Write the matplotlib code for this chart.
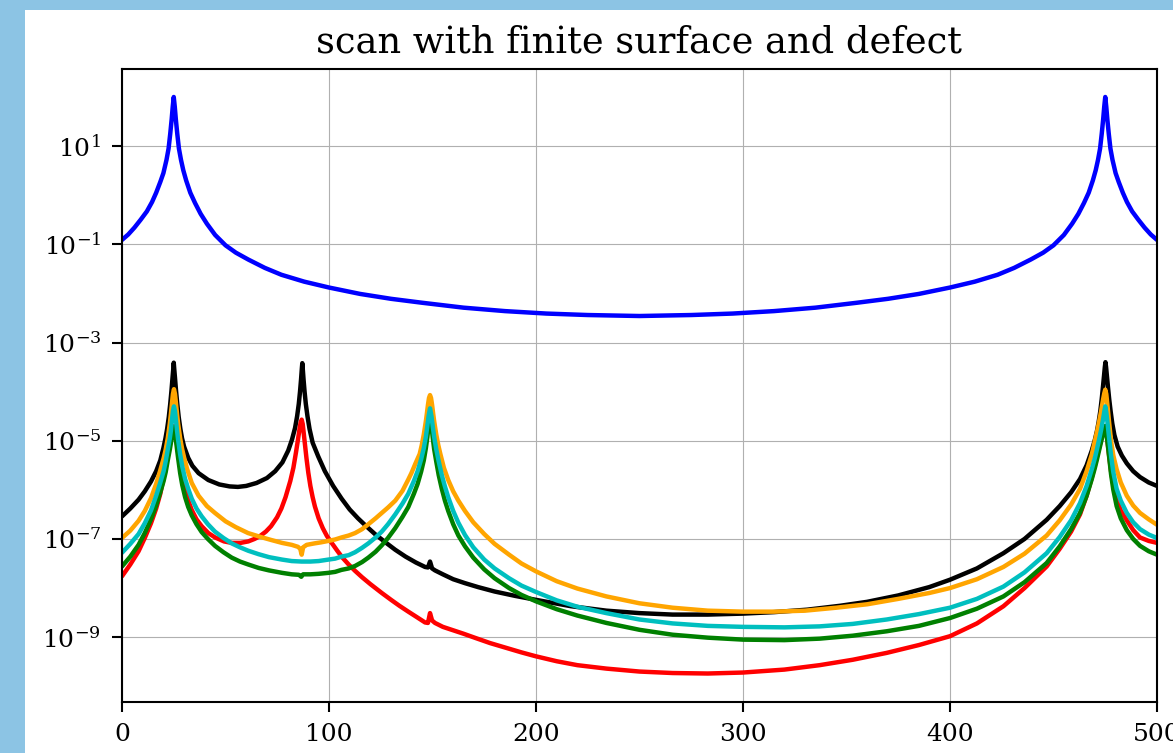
import numpy as np
import matplotlib
matplotlib.use("Agg")
import matplotlib.pyplot as plt
from matplotlib.patches import Rectangle

plt.rcParams['font.family'] = ['DejaVu Serif']
plt.rcParams['mathtext.fontset'] = 'dejavuserif'

# ---- data: x and log10(y) ----
blue_x = [0, 3, 6, 9, 12, 14.5, 16.5, 18.5, 20, 21.5, 22.5, 23.3, 24, 24.5, 25, 25.5, 26, 26.7, 27.5, 28.5, 29.6,
          31, 33, 35.3, 38, 41, 45, 50, 55, 61, 69, 77, 88, 100, 115, 130, 145, 165, 185, 205, 225, 250,
          275, 295, 315, 335, 355, 370, 385, 400, 412, 423, 431, 439, 445, 450, 455, 459, 462, 464.7, 467, 469,
          470.4, 471.5, 472.5, 473.3, 474, 474.5, 475, 475.5, 476, 476.7, 477.5, 478.5, 480, 481.5, 483.5,
          485.5, 488, 491, 494, 497, 500]
blue_log = [-0.91, -0.80, -0.66, -0.50, -0.33, -0.14, 0.05, 0.27, 0.45, 0.72, 0.95, 1.25, 1.55, 1.80, 2.0, 1.80,
            1.55, 1.25, 0.95, 0.72, 0.51, 0.30, 0.05, -0.16, -0.38, -0.58, -0.81, -1.02, -1.17, -1.31, -1.48,
            -1.62, -1.76, -1.88, -2.01, -2.11, -2.19, -2.29, -2.36, -2.41, -2.44, -2.46,
            -2.44, -2.41, -2.36, -2.29, -2.19, -2.11, -2.01, -1.88, -1.76, -1.62, -1.48, -1.31, -1.17, -1.02,
            -0.81, -0.58, -0.38, -0.16, 0.05, 0.30, 0.51, 0.72, 0.95, 1.25, 1.55, 1.80, 2.0, 1.80, 1.55, 1.25,
            0.95, 0.72, 0.45, 0.27, 0.05, -0.14, -0.33, -0.50, -0.66, -0.80, -0.91]

black_x = [0, 4, 8, 11, 14, 16.5, 18.5, 20, 21, 21.8, 22.6, 23.3, 23.9, 24.4, 24.8, 25, 25.2, 25.6, 26.1, 26.7,
           27.4, 28.2, 29, 30, 32, 34, 37, 41.7, 47, 52, 56, 60, 65, 70, 74, 77.5, 80.3, 82.1, 83.6, 84.6, 85.4,
           86, 86.5, 86.9, 87.1, 87.3, 87.7, 88.2, 88.8, 89.6, 90.6, 92.1, 94.8, 98, 102, 106.1, 110, 114, 118,
           122.2, 127, 132, 137, 142, 146.4, 147.8, 148.8, 149.8, 151.2, 155, 160, 165.7, 172, 180, 190, 200,
           217, 234, 250, 266, 283, 300, 315, 331, 347, 360, 375, 390, 400, 413, 425.8, 436, 446.7, 453, 458.5,
           462.8, 466, 468.5, 470, 471, 471.8, 472.6, 473.3, 473.9, 474.4, 474.8, 475.1, 475.4, 475.8, 476.3,
           476.9, 477.6, 478.4, 479.4, 481, 483, 485.4, 488.5, 491.8, 496, 500]
black_log = [-6.54, -6.38, -6.20, -6.03, -5.83, -5.62, -5.40, -5.15, -4.95, -4.76, -4.52, -4.25, -3.98, -3.72,
             -3.52, -3.41, -3.52, -3.72, -3.98, -4.25, -4.52, -4.76, -4.95, -5.12, -5.35, -5.51, -5.66, -5.80,
             -5.89, -5.93, -5.94, -5.92, -5.86, -5.76, -5.62, -5.44, -5.20, -4.98, -4.74, -4.50, -4.25, -4.00,
             -3.75, -3.52, -3.42, -3.52, -3.75, -4.00, -4.25, -4.50, -4.76, -5.04, -5.32, -5.62, -5.92, -6.18,
             -6.40, -6.58, -6.74, -6.90, -7.06, -7.22, -7.36, -7.48, -7.57, -7.58, -7.46, -7.60, -7.64, -7.72,
             -7.82, -7.90, -7.98, -8.07, -8.16, -8.24, -8.37, -8.46, -8.51, -8.54, -8.54, -8.52, -8.49, -8.44,
             -8.36, -8.28, -8.15, -7.98, -7.83, -7.60, -7.29, -7.00, -6.61, -6.33, -6.05, -5.78, -5.50, -5.20,
             -4.98, -4.80, -4.62, -4.40, -4.15, -3.90, -3.68, -3.50, -3.40, -3.50, -3.68, -3.90, -4.15, -4.40,
             -4.65, -4.88, -5.12, -5.30, -5.46, -5.62, -5.74, -5.85, -5.92]

orange_x = [0, 4, 8, 11, 14, 16.5, 18.5, 20.1, 21.1, 22.1, 23.1, 23.6, 24.1, 24.6, 25.1, 25.6, 26.1, 26.6, 27.1,
            28.1, 29.1, 30.1, 31.5, 33.7, 37, 41, 44.9, 50, 55, 60.9, 67, 72, 77.3, 82, 85, 86.1, 86.8, 87.5,
            89.2, 93, 96, 99.7, 103, 106, 109.5, 112.6, 116, 119, 122.5, 125.5, 128.5, 132, 135.5, 138.3,
            139.8, 141.8, 143.8, 144.8, 145.8, 146.8, 147.3, 147.8, 148.3, 148.8, 149.3, 149.8, 150.3, 150.8,
            151.8, 152.8, 153.8, 155.5, 157.6, 160, 162.5, 165.7, 169.7, 175, 180, 187, 193, 200, 210, 220,
            234, 250, 266, 283, 300, 315, 330, 345, 360, 375, 390, 400, 413, 425.8, 436, 446.7, 453, 458.5,
            462.8, 466, 468.5, 470, 471, 472, 473, 474, 474.5, 475, 475.5, 476, 476.8, 477.8, 478.9, 480.5,
            482.5, 485.4, 488.5, 491.8, 496, 500]
orange_log = [-6.98, -6.83, -6.63, -6.43, -6.17, -5.88, -5.60, -5.36, -5.18, -4.95, -4.65, -4.46, -4.25, -4.05,
              -3.95, -4.05, -4.25, -4.46, -4.65, -4.95, -5.18, -5.36, -5.58, -5.86, -6.12, -6.33, -6.47, -6.64,
              -6.76, -6.88, -6.96, -7.02, -7.08, -7.12, -7.16, -7.20, -7.32, -7.17, -7.12, -7.09, -7.07, -7.04,
              -7.01, -6.97, -6.93, -6.88, -6.80, -6.70, -6.58, -6.47, -6.36, -6.22, -6.02, -5.79, -5.66, -5.46,
              -5.27, -5.09, -4.87, -4.60, -4.44, -4.27, -4.13, -4.07, -4.13, -4.27, -4.44, -4.60, -4.87, -5.09,
              -5.27, -5.55, -5.80, -6.03, -6.22, -6.43, -6.66, -6.90, -7.10, -7.32, -7.50, -7.66, -7.86, -8.01,
              -8.17, -8.31, -8.40, -8.46, -8.48, -8.48, -8.46, -8.40, -8.33, -8.22, -8.10, -8.00, -7.82, -7.57,
              -7.30, -6.93, -6.62, -6.30, -5.98, -5.62, -5.28, -5.00, -4.82, -4.62, -4.40, -4.15, -4.04, -3.96,
              -4.05, -4.25, -4.60, -5.00, -5.30, -5.58, -5.85, -6.12, -6.32, -6.47, -6.60, -6.71]

cyan_x = [0, 4, 8, 11, 14, 16.5, 18.5, 20.1, 21.1, 22.1, 23.1, 23.6, 24.1, 24.6, 25.1, 25.6, 26.1, 26.6, 27.1,
          28.1, 29.1, 30.5, 32, 33.7, 36, 38.5, 41.5, 44.9, 49, 53, 57, 61, 66, 71, 77.3, 82, 86.8, 91, 95,
          99.7, 103, 106, 109.5, 112.6, 116, 119, 122.5, 125.5, 128.5, 132, 135.5, 138.3, 141, 142.8, 144.5,
          145.8, 146.8, 147.5, 148.1, 148.8, 149.5, 150.1, 150.8, 151.8, 153, 154.5, 156, 157.6, 160, 162.5,
          165.7, 169.7, 175, 180, 187, 193, 200, 210, 220, 234, 250, 266, 283, 300, 320, 337, 353, 369.4, 385,
          400, 413, 425.8, 436, 446.7, 453, 458.5, 462.8, 466, 468.5, 470, 471, 472, 473, 474, 474.5, 475,
          475.5, 476, 476.8, 477.8, 478.9, 480.5, 482.5, 485.4, 488.5, 491.8, 496, 500]
cyan_log = [-7.28, -7.10, -6.90, -6.68, -6.42, -6.12, -5.85, -5.62, -5.42, -5.18, -4.95, -4.80, -4.60, -4.40,
            -4.30, -4.40, -4.60, -4.80, -4.98, -5.28, -5.52, -5.78, -5.98, -6.18, -6.38, -6.54, -6.70, -6.85,
            -6.98, -7.09, -7.17, -7.24, -7.31, -7.37, -7.42, -7.45, -7.46, -7.46, -7.45, -7.42, -7.40, -7.36,
            -7.33, -7.27, -7.18, -7.09, -6.97, -6.85, -6.70, -6.50, -6.28, -6.08, -5.82, -5.62, -5.38, -5.15,
            -4.92, -4.70, -4.50, -4.34, -4.50, -4.70, -4.92, -5.17, -5.42, -5.70, -5.93, -6.15, -6.43, -6.67,
            -6.92, -7.17, -7.42, -7.60, -7.80, -7.95, -8.08, -8.25, -8.38, -8.51, -8.64, -8.72, -8.77, -8.79,
            -8.80, -8.78, -8.73, -8.64, -8.53, -8.40, -8.22, -7.97, -7.68, -7.29, -6.96, -6.62, -6.27, -5.92,
            -5.58, -5.35, -5.17, -4.98, -4.78, -4.55, -4.42, -4.30, -4.42, -4.60, -4.92, -5.30, -5.64, -5.98,
            -6.22, -6.47, -6.66, -6.80, -6.91, -6.98]

green_x = [0, 4, 8, 11, 14, 16.5, 18.5, 20.1, 21.1, 22.1, 23.1, 23.6, 24.1, 24.6, 25.1, 25.6, 26.1, 26.6, 27.1,
           28.1, 29.1, 30.5, 32, 33.7, 36, 38.5, 41.5, 44.9, 49, 53, 57, 61, 66, 71, 77.3, 82, 85.5, 86.6, 87.5,
           91, 95, 99.7, 103, 106, 109.5, 112.6, 116, 119, 122.5, 125.5, 128.5, 132, 135.5, 138.3, 141, 142.8,
           144.5, 145.8, 146.8, 147.5, 148.1, 148.8, 149.5, 150.1, 150.8, 151.8, 153, 154.5, 156, 157.6, 160,
           162.5, 165.7, 169.7, 175, 180, 187, 193, 200, 210, 220, 234, 250, 266, 283, 300, 320, 337, 353,
           369.4, 385, 400, 413, 425.8, 436, 446.7, 453, 458.5, 462.8, 466, 468.5, 470, 471, 472, 473, 474,
           474.5, 475, 475.5, 476, 476.8, 477.8, 478.9, 480.5, 482.5, 485.4, 488.5, 491.8, 496, 500]
green_log = [-7.56, -7.36, -7.12, -6.88, -6.60, -6.32, -6.05, -5.82, -5.64, -5.40, -5.18, -5.05, -4.92, -4.80,
             -4.72, -4.82, -5.00, -5.18, -5.35, -5.66, -5.90, -6.15, -6.35, -6.52, -6.70, -6.86, -7.00, -7.14,
             -7.27, -7.38, -7.46, -7.52, -7.59, -7.64, -7.69, -7.72, -7.73, -7.77, -7.72, -7.72, -7.71, -7.69,
             -7.67, -7.63, -7.60, -7.55, -7.47, -7.38, -7.26, -7.13, -6.98, -6.78, -6.55, -6.35, -6.08, -5.88,
             -5.63, -5.40, -5.15, -4.93, -4.70, -4.51, -4.70, -4.93, -5.17, -5.42, -5.70, -5.98, -6.22, -6.43,
             -6.70, -6.93, -7.15, -7.38, -7.62, -7.80, -8.00, -8.14, -8.27, -8.43, -8.56, -8.71, -8.85, -8.95,
             -9.01, -9.05, -9.06, -9.03, -8.97, -8.88, -8.77, -8.61, -8.42, -8.17, -7.88, -7.49, -7.15, -6.80,
             -6.47, -6.12, -5.78, -5.55, -5.38, -5.20, -5.02, -4.85, -4.78, -4.70, -4.82, -5.00, -5.30, -5.68,
             -6.00, -6.33, -6.58, -6.82, -7.00, -7.14, -7.25, -7.32]

red_x = [0, 4, 8, 11, 14, 16.5, 18.5, 20.1, 21.1, 22.1, 23.1, 23.6, 24.1, 24.6, 25.1, 25.6, 26.1, 26.6, 27.1,
         28.1, 29.1, 30.5, 32, 33.7, 36, 38.5, 41.7, 45, 49.3, 53, 57.2, 61, 64, 66.7, 69.5, 72, 74.9, 77, 79,
         81.3, 82.8, 84, 85, 85.7, 86.3, 86.8, 87.3, 87.8, 88.4, 89.1, 90, 91, 92.1, 93.2, 95, 97, 99, 101.3,
         104, 106.5, 109.5, 112.6, 116, 120, 125.5, 130, 134, 138.3, 142, 146.4, 147.8, 148.8, 149.8, 151.2,
         155, 160, 165, 171, 177.8, 185.8, 193, 200, 210, 220, 234, 250, 266, 283, 300, 320, 337, 353, 369.4,
         385, 400, 413, 425.8, 436, 446.7, 453, 458.5, 462.8, 466, 468.5, 470, 471, 472, 473, 474, 474.5, 475,
         475.5, 476, 476.8, 477.8, 478.9, 480.5, 482.5, 485.4, 488.5, 491.8, 496, 500]
red_log = [-7.76, -7.52, -7.25, -6.98, -6.68, -6.38, -6.08, -5.75, -5.52, -5.27, -5.05, -4.95, -4.85, -4.76,
           -4.70, -4.78, -4.92, -5.07, -5.22, -5.52, -5.76, -6.00, -6.22, -6.41, -6.60, -6.74, -6.88, -6.97,
           -7.05, -7.08, -7.08, -7.05, -7.00, -6.94, -6.85, -6.74, -6.56, -6.38, -6.15, -5.82, -5.55, -5.25,
           -4.98, -4.78, -4.63, -4.57, -4.66, -4.85, -5.08, -5.35, -5.65, -5.92, -6.15, -6.34, -6.58, -6.78,
           -6.94, -7.08, -7.24, -7.38, -7.52, -7.65, -7.78, -7.92, -8.10, -8.24, -8.36, -8.48, -8.58, -8.70,
           -8.71, -8.51, -8.66, -8.71, -8.79, -8.86, -8.93, -9.02, -9.12, -9.22, -9.31, -9.39, -9.49, -9.57,
           -9.64, -9.70, -9.73, -9.74, -9.72, -9.66, -9.57, -9.46, -9.32, -9.16, -8.98, -8.72, -8.37, -8.00,
           -7.56, -7.20, -6.85, -6.50, -6.12, -5.75, -5.50, -5.32, -5.15, -4.98, -4.83, -4.76, -4.70, -4.80,
           -4.98, -5.28, -5.62, -5.90, -6.18, -6.42, -6.62, -6.82, -6.97, -7.04, -7.08]

series = [
    (blue_x, blue_log, '#0000ff'),
    (black_x, black_log, '#000000'),
    (red_x, red_log, '#ff0000'),
    (green_x, green_log, '#008000'),
    (orange_x, orange_log, '#ffa500'),
    (cyan_x, cyan_log, '#00bfbf'),
]

title = "scan with finite surface and defect"
x_ticks = [0, 100, 200, 300, 400, 500]
y_tick_exps = [1, -1, -3, -5, -7, -9]

W, H = 1173, 753
fig = plt.figure(figsize=(W / 100, H / 100), dpi=100, facecolor='#8cc4e4')
fig.patches.append(Rectangle((25 / W, 0), 1 - 25 / W, 1 - 10 / H, transform=fig.transFigure,
                             facecolor='white', edgecolor='none', zorder=-5))

ax = fig.add_axes([122 / W, 1 - 702 / H, (1157 - 122) / W, (702 - 69) / H])
ax.set_zorder(1)
ax.set_yscale('log')
for xs, ls, c in series:
    ax.plot(xs, 10.0 ** np.array(ls), color=c, lw=3.2, solid_joinstyle='round', solid_capstyle='round')

ax.set_xlim(0, 500)
ax.set_ylim(10 ** -10.32, 10 ** 2.57)
ax.set_xticks(x_ticks)
ax.set_xticklabels([str(t) for t in x_ticks])
ax.set_yticks([10.0 ** e for e in y_tick_exps])
ax.set_yticklabels([r'$10^{%d}$' % e for e in y_tick_exps])
ax.yaxis.set_minor_locator(matplotlib.ticker.NullLocator())
ax.tick_params(axis='both', which='major', labelsize=18, length=7, width=1.5, direction='out')
ax.tick_params(axis='y', pad=8)
ax.tick_params(axis='x', pad=8)
ax.grid(True, which='major', color='#b0b0b0', lw=0.8)
ax.set_axisbelow(True)
for s in ax.spines.values():
    s.set_linewidth(1.5)
ax.set_title(title, fontsize=26.5, pad=12)

fig.savefig('out.png', dpi=100, facecolor=fig.get_facecolor())
